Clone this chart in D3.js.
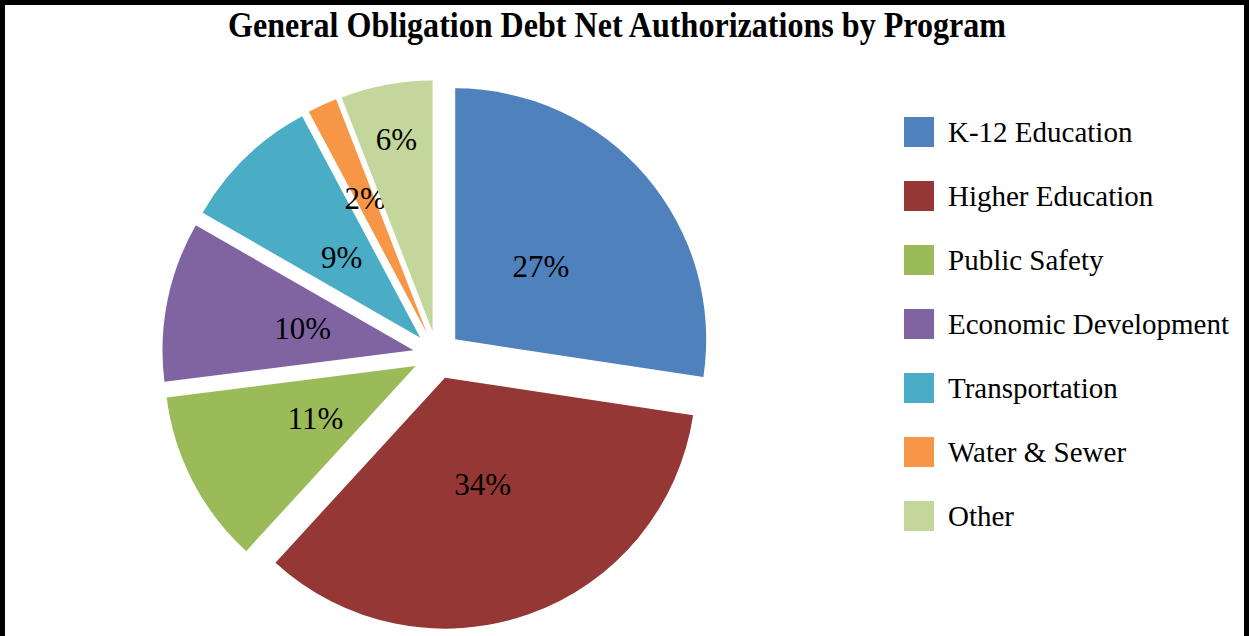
<!DOCTYPE html>
<html>
<head>
  <meta charset="utf-8">
  <title>General Obligation Debt Net Authorizations by Program</title>
  <script src="https://d3js.org/d3.v7.min.js"></script>
  <style>
    body { margin: 0; background: #fff; }
    svg { display: block; }
    text { font-family: "Liberation Serif", "Times New Roman", serif; fill: #000; }
  </style>
</head>
<body>
  <div id="chart"></div>
  <script>
    // program shares (percent of net authorizations)
    var programs = ["K-12 Education", "Higher Education", "Public Safety", "Economic Development",
                    "Transportation", "Water & Sewer", "Other"];
    var shares = [27.4, 34.4, 11.2, 10.3, 8.9, 1.9, 5.9];
    var colors = ["#4F81BD", "#953735", "#9BBB59", "#8064A2", "#4BACC6", "#F79646", "#C3D69B"];

    var width = 1249, height = 636;
    var cx = 437, cy = 355, r = 251, explode = 24;

    var svg = d3.select("#chart").append("svg")
      .attr("width", width)
      .attr("height", height);

    // outer frame (bottom is cut off in the original)
    svg.append("rect")
      .attr("x", 2.5).attr("y", 2.5)
      .attr("width", width - 5).attr("height", height + 20)
      .attr("fill", "none")
      .attr("stroke", "#000")
      .attr("stroke-width", 5);

    svg.append("text")
      .attr("x", 617).attr("y", 37)
      .attr("text-anchor", "middle")
      .attr("font-size", 35)
      .attr("font-weight", "bold")
      .attr("textLength", 778)
      .attr("lengthAdjust", "spacingAndGlyphs")
      .text("General Obligation Debt Net Authorizations by Program");

    var data = programs.map(function (p, i) { return { name: p, value: shares[i], color: colors[i] }; });
    var total = d3.sum(shares);

    var pie = d3.pie().sort(null).value(function (d) { return d.value; });
    var arc = d3.arc().innerRadius(0).outerRadius(r);
    var arcs = pie(data);

    // labels of thin slices sit further out
    var labelFrac = { "Other": 0.78, "Water & Sewer": 0.59 };

    var g = svg.append("g").attr("transform", "translate(" + cx + "," + cy + ")");

    var slice = g.selectAll(".slice")
      .data(arcs)
      .enter().append("g")
      .attr("class", "slice")
      .attr("transform", function (d) {
        var a = (d.startAngle + d.endAngle) / 2;
        return "translate(" + (Math.sin(a) * explode) + "," + (-Math.cos(a) * explode) + ")";
      });

    slice.append("path")
      .attr("d", arc)
      .attr("fill", function (d) { return d.data.color; });

    slice.append("text")
      .attr("transform", function (d) {
        var a = (d.startAngle + d.endAngle) / 2;
        var lr = r * (labelFrac[d.data.name] || 0.45);
        return "translate(" + (Math.sin(a) * lr) + "," + (-Math.cos(a) * lr) + ")";
      })
      .attr("text-anchor", "middle")
      .attr("dy", "0.35em")
      .attr("font-size", 31)
      .text(function (d) { return d3.format(".0%")(d.data.value / total); });

    // legend
    var legend = svg.append("g").attr("transform", "translate(904,117)");
    var item = legend.selectAll(".item")
      .data(data)
      .enter().append("g")
      .attr("transform", function (d, i) { return "translate(0," + (i * 64) + ")"; });

    item.append("rect")
      .attr("width", 30).attr("height", 30)
      .attr("fill", function (d) { return d.color; });

    item.append("text")
      .attr("x", 44).attr("y", 25)
      .attr("font-size", 29)
      .text(function (d) { return d.name; });
  </script>
</body>
</html>
